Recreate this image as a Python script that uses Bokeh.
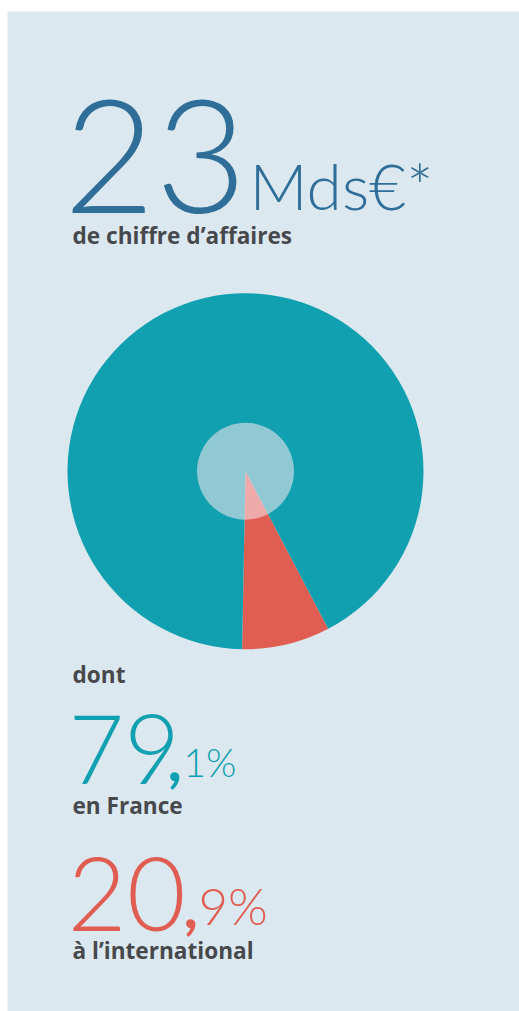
import math
from bokeh.plotting import figure
from bokeh.models import Range1d, ColumnDataSource
from bokeh.core.properties import value
from bokeh.embed import file_html
from bokeh.resources import INLINE

# ---- data ----
headline_number = "23"
headline_unit = "Mds€*"
headline_caption = "de chiffre d’affaires"
intro_label = "dont"
segments = ["International", "France"]
pie_shares = [8.0, 92.0]          # slice sizes as drawn in the picture (%)
segment_main = ["20,", "79,"]
segment_decimal = ["9%", "1%"]
segment_captions = ["à l’international", "en France"]

BG = "#dce8f0"
BLUE = "#2f6e98"
TEAL = "#10a0b0"
RED = "#e05d52"
GRAY = "#47484c"
seg_colors = {"International": RED, "France": TEAL}

THIN = "Lato Light"
BOLD = "Open Sans"

p = figure(width=519, height=1011, output_backend="svg", toolbar_location=None,
           x_range=Range1d(7, 519), y_range=Range1d(1011, 11),
           min_border_left=7, min_border_right=0, min_border_bottom=0, min_border_top=11)
p.axis.visible = False
p.grid.visible = False
p.outline_line_color = None
p.background_fill_color = BG
p.border_fill_color = "white"

# ---- pie ----
cx, cy, R, r_in = 245, 470.7, 178, 48.5
start0 = math.radians(-91.1)
total = sum(pie_shares)
starts, ends = [], []
acc = start0
for s in pie_shares:
    starts.append(acc)
    acc += s / total * 2 * math.pi
    ends.append(acc)
src = ColumnDataSource(dict(seg=segments, share=pie_shares, start=starts, end=ends,
                            color=[seg_colors[s] for s in segments]))
p.wedge(x=cx, y=cy, radius=R, start_angle="start", end_angle="end", direction="anticlock",
        fill_color="color", line_color=None, source=src)
p.scatter(x=[cx], y=[cy], size=2 * r_in, marker="circle", fill_color="#faeaf0",
          fill_alpha=0.55, line_color=None)

def txt(x, y, s, font, size, color, bold=False):
    p.text(x=[x], y=[y], text=[s], text_font=value(font), text_font_size=f"{size}px",
           text_font_style="bold" if bold else "normal", text_color=color,
           text_baseline="alphabetic")

# ---- texts ----
txt(63, 156, headline_number, THIN, 158, BLUE)
txt(249, 185, headline_unit, THIN, 64, BLUE)
txt(72, 235, headline_caption, BOLD, 22.6, GRAY, True)
txt(72, 674, intro_label, BOLD, 22.6, GRAY, True)

i_fr = segments.index("France")
main_fr = segment_main[i_fr]
txt(68, 749, main_fr[:-1], THIN, 96, TEAL)
txt(167, 758, main_fr[-1], "Lato", 62, TEAL, True)
txt(183, 761, segment_decimal[i_fr], THIN, 39, TEAL)
txt(72, 805, segment_captions[i_fr], BOLD, 22.6, GRAY, True)

i_in = segments.index("International")
main_in = segment_main[i_in]
txt(67, 894, main_in[:-1], THIN, 102, RED)
txt(183, 905, main_in[-1], "Lato", 62, RED, True)
txt(198, 905, segment_decimal[i_in], THIN, 51, RED)
txt(72, 950, segment_captions[i_in], BOLD, 22.6, GRAY, True)

open("out.html", "w").write(file_html(p, INLINE))
